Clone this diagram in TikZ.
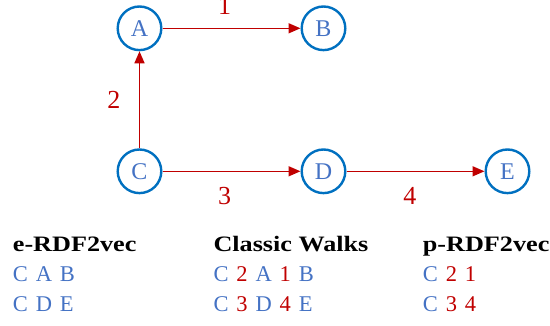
\documentclass[tikz,border=0pt]{standalone}
\usepackage{fontspec}
\setmainfont{Liberation Serif}[WordSpace=1.4]
\newfontfamily\headfont{Liberation Serif}[FakeStretch=1.19]
\usepackage{xcolor}
\usetikzlibrary{arrows.meta,positioning}
\definecolor{nodeblue}{RGB}{0,112,192}
\definecolor{letterblue}{RGB}{68,114,196}
\definecolor{edgered}{RGB}{192,0,0}
\newcommand{\walkent}[1]{\textcolor{letterblue}{#1}}
\newcommand{\walkrel}[1]{\textcolor{edgered}{#1}}

\begin{document}
\begin{tikzpicture}[
        x=1pt, y=1pt,
        >={Triangle[length=12pt,width=10pt]},
        node distance=97pt and 138pt,
        vertex/.style={draw=nodeblue, line width=2.4pt, circle, minimum size=43.6pt, inner sep=0pt, text=letterblue, font=\fontsize{24}{24}\selectfont},
        link/.style={->, draw=edgered, line width=1.5pt},
        linklabel/.style={text=edgered, font=\fontsize{26}{26}\selectfont},
        colhead/.style={anchor=base west, inner sep=0pt, font=\headfont\bfseries\fontsize{22}{24}\selectfont},
        walkrow/.style={anchor=base west, inner sep=0pt, font=\fontsize{22.5}{24}\selectfont}
        ]
        \useasboundingbox (0,0) rectangle (550,-326);

        % Nodes
        \node[vertex] (A) at (139.5,-28.3) {A};
        \node[vertex] (B) [right=of A] {B};
        \node[vertex] (C) [below=of A] {C};
        \node[vertex] (D) [right=of C] {D};
        \node[vertex] (E) [right=of D] {E};

        % Edges
        \draw[link] (A) -- node[linklabel, above=10pt, pos=0.45] {1} (B);
        \draw[link] (C) -- node[linklabel, left=15pt] {2} (A);
        \draw[link] (C) -- node[linklabel, below=12pt, pos=0.45] {3} (D);
        \draw[link] (D) -- node[linklabel, below=12pt, pos=0.46] {4} (E);

        % Walks
        \node[colhead] (ehead) at (12.7,-251.7) {e-RDF2vec};
        \node[walkrow] (ewalk1) at (12.7,-281.7) {\walkent{C A B}};
        \node[walkrow] (ewalk2) at (12.7,-311.7) {\walkent{C D E}};

        \node[colhead] (chead) at (213.3,-251.7) {Classic Walks};
        \node[walkrow] (cwalk1) at (213.3,-281.7) {\walkent{C} \walkrel{2} \walkent{A} \walkrel{1} \walkent{B}};
        \node[walkrow] (cwalk2) at (213.3,-311.7) {\walkent{C} \walkrel{3} \walkent{D} \walkrel{4} \walkent{E}};

        \node[colhead] (phead) at (422.7,-251.7) {p-RDF2vec};
        \node[walkrow] (pwalk1) at (422.7,-281.7) {\walkent{C} \walkrel{2 1}};
        \node[walkrow] (pwalk2) at (422.7,-311.7) {\walkent{C} \walkrel{3 4}};

    \end{tikzpicture}
\end{document}
